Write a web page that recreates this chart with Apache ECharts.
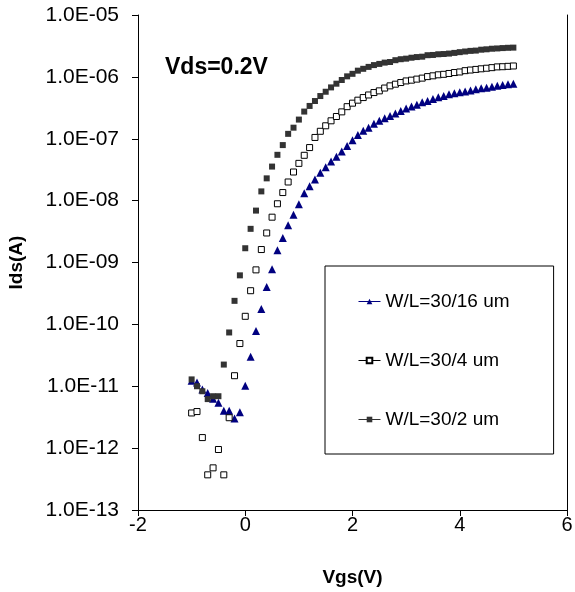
<!DOCTYPE html>
<html>
<head>
<meta charset="utf-8">
<script src="https://cdn.jsdelivr.net/npm/echarts/dist/echarts.min.js"></script>
<style>
  html, body { margin: 0; padding: 0; background: #fff; }
  #main { width: 575px; height: 592px; }
</style>
</head>
<body>
<div id="main"></div>
<script>
// Vgs (V), one point every 0.1 V
var vgs = [
  -1.0, -0.9, -0.8, -0.7, -0.6, -0.5, -0.4, -0.3, -0.2, -0.1,
  0.0, 0.1, 0.2, 0.3, 0.4, 0.5, 0.6, 0.7, 0.8, 0.9,
  1.0, 1.1, 1.2, 1.3, 1.4, 1.5, 1.6, 1.7, 1.8, 1.9,
  2.0, 2.1, 2.2, 2.3, 2.4, 2.5, 2.6, 2.7, 2.8, 2.9,
  3.0, 3.1, 3.2, 3.3, 3.4, 3.5, 3.6, 3.7, 3.8, 3.9,
  4.0, 4.1, 4.2, 4.3, 4.4, 4.5, 4.6, 4.7, 4.8, 4.9,
  5.0
];

// Ids (A) for W/L=30/16 um
var ids30_16 = [
  1.23e-11, 1.15e-11, 8.9e-12, 7.8e-12, 6.3e-12, 5.4e-12, 4.0e-12, 4.0e-12, 3.0e-12, 3.8e-12,
  1.02e-11, 3.0e-11, 7.8e-11, 1.78e-10, 4.0e-10, 7.8e-10, 1.58e-9, 2.5e-9, 4.0e-9, 5.9e-9,
  8.7e-9, 1.32e-8, 1.70e-8, 2.19e-8, 2.82e-8, 3.47e-8, 4.27e-8, 5.1e-8, 6.2e-8, 7.6e-8,
  9.5e-8, 1.15e-7, 1.35e-7, 1.51e-7, 1.74e-7, 1.95e-7, 2.14e-7, 2.34e-7, 2.57e-7, 2.82e-7,
  3.09e-7, 3.31e-7, 3.55e-7, 3.89e-7, 4.07e-7, 4.37e-7, 4.68e-7, 4.9e-7, 5.25e-7, 5.43e-7,
  5.62e-7, 5.82e-7, 6.03e-7, 6.31e-7, 6.53e-7, 6.68e-7, 6.92e-7, 7.16e-7, 7.41e-7, 7.59e-7,
  7.76e-7
];

// Ids (A) for W/L=30/4 um
var ids30_4 = [
  3.7e-12, 3.9e-12, 1.48e-12, 3.7e-13, 4.8e-13, 9.5e-13, 3.7e-13, 3.1e-12, 1.48e-11, 4.9e-11,
  1.35e-10, 3.5e-10, 7.6e-10, 1.62e-9, 3.0e-9, 5.4e-9, 8.9e-9, 1.35e-8, 2.0e-8, 2.9e-8,
  4.0e-8, 5.4e-8, 7.2e-8, 1.05e-7, 1.32e-7, 1.62e-7, 1.95e-7, 2.29e-7, 2.72e-7, 3.3e-7,
  3.76e-7, 4.2e-7, 4.63e-7, 5.1e-7, 5.58e-7, 5.94e-7, 6.6e-7, 7.16e-7, 7.62e-7, 8.1e-7,
  8.6e-7, 8.85e-7, 9.2e-7, 9.55e-7, 1.01e-6, 1.04e-6, 1.08e-6, 1.10e-6, 1.135e-6, 1.175e-6,
  1.20e-6, 1.26e-6, 1.29e-6, 1.32e-6, 1.35e-6, 1.38e-6, 1.41e-6, 1.45e-6, 1.46e-6, 1.48e-6,
  1.50e-6
];

// Ids (A) for W/L=30/2 um
var ids30_2 = [
  1.29e-11, 1.0e-11, 8.3e-12, 6.2e-12, 6.9e-12, 6.9e-12, 2.24e-11, 7.4e-11, 2.4e-10, 6.2e-10,
  1.7e-9, 3.5e-9, 6.9e-9, 1.41e-8, 2.29e-8, 3.55e-8, 5.5e-8, 7.9e-8, 1.2e-7, 1.51e-7,
  2.04e-7, 2.75e-7, 3.39e-7, 4.07e-7, 4.9e-7, 5.75e-7, 6.76e-7, 7.76e-7, 8.9e-7, 1.02e-6,
  1.12e-6, 1.26e-6, 1.35e-6, 1.45e-6, 1.55e-6, 1.62e-6, 1.70e-6, 1.74e-6, 1.86e-6, 1.93e-6,
  1.97e-6, 2.04e-6, 2.09e-6, 2.12e-6, 2.24e-6, 2.26e-6, 2.32e-6, 2.34e-6, 2.38e-6, 2.44e-6,
  2.51e-6, 2.57e-6, 2.63e-6, 2.66e-6, 2.75e-6, 2.79e-6, 2.85e-6, 2.88e-6, 2.92e-6, 2.95e-6,
  2.97e-6
];

var seriesNames = ["W/L=30/16 um", "W/L=30/4 um", "W/L=30/2 um"];
var yTickLabels = ["1.0E-13", "1.0E-12", "1.0E-11", "1.0E-10", "1.0E-09",
                   "1.0E-08", "1.0E-07", "1.0E-06", "1.0E-05"];

function pairs(ys) {
  var arr = [];
  for (var i = 0; i < vgs.length; i++) {
    arr.push([vgs[i], ys[i]]);
  }
  return arr;
}

var font = "Liberation Sans, Arial, sans-serif";
var myChart = echarts.init(document.getElementById("main"));

var option = {
  animation: false,
  title: {
    text: "Vds=0.2V",
    left: 160,
    top: 51,
    textStyle: { color: "#000", fontFamily: font, fontWeight: "bold", fontSize: 23 }
  },
  legend: {
    orient: "vertical",
    left: 325,
    top: 266,
    width: 227,
    padding: [26, 44, 25, 33],
    itemGap: 40,
    itemWidth: 22,
    itemHeight: 7,
    borderColor: "#000",
    borderWidth: 1,
    data: seriesNames,
    lineStyle: { opacity: 1, width: 1 },
    textStyle: { color: "#000", fontFamily: font, fontSize: 19 }
  },
  grid: {
    left: 138,
    right: 8,
    top: 15,
    bottom: 82,
    containLabel: false,
    outerBoundsMode: "none"
  },
  xAxis: {
    type: "value",
    min: -2,
    max: 6,
    interval: 2,
    name: "Vgs(V)",
    nameLocation: "middle",
    nameGap: 58,
    nameTextStyle: { color: "#000", fontFamily: font, fontWeight: "bold", fontSize: 19 },
    axisLine: { onZero: false, lineStyle: { color: "#000", width: 1 } },
    axisTick: { length: 6, lineStyle: { color: "#000" } },
    axisLabel: { color: "#000", fontFamily: font, fontSize: 20, margin: 5 },
    splitLine: { show: false }
  },
  yAxis: [
    {
      type: "log",
      logBase: 10,
      min: 1e-13,
      max: 1e-5,
      splitNumber: 8,
      name: "Ids(A)",
      nameLocation: "middle",
      nameRotate: 90,
      nameGap: 112,
      nameTextStyle: { color: "#000", fontFamily: font, fontWeight: "bold", fontSize: 19 },
      axisLine: { show: true, onZero: false, lineStyle: { color: "#000", width: 1 } },
      axisTick: { show: true, length: 6, lineStyle: { color: "#000" } },
      axisLabel: {
        color: "#000",
        fontFamily: font,
        fontSize: 21,
        margin: 19,
        formatter: function (v) {
          var e = Math.round(Math.log10(v));
          return yTickLabels[e + 13];
        }
      },
      minorTick: { show: false },
      splitLine: { show: false }
    },
    {
      type: "value",
      position: "right",
      min: 0,
      max: 1,
      axisLine: { show: true, onZero: false, lineStyle: { color: "#000", width: 1 } },
      axisTick: { show: false },
      axisLabel: { show: false },
      splitLine: { show: false }
    }
  ],
  series: [
    {
      name: seriesNames[0],
      type: "line",
      symbol: "triangle",
      symbolSize: 8,
      showAllSymbol: true,
      lineStyle: { opacity: 0, color: "#000080" },
      itemStyle: { color: "#000080" },
      data: pairs(ids30_16)
    },
    {
      name: seriesNames[1],
      type: "line",
      symbol: "rect",
      symbolSize: 6,
      showAllSymbol: true,
      lineStyle: { opacity: 0, color: "#000" },
      itemStyle: { color: "#fff", borderColor: "#000", borderWidth: 1 },
      data: pairs(ids30_4)
    },
    {
      name: seriesNames[2],
      type: "line",
      symbol: "rect",
      symbolSize: 6,
      showAllSymbol: true,
      lineStyle: { opacity: 0, color: "#333" },
      itemStyle: { color: "#333" },
      data: pairs(ids30_2)
    }
  ]
};

myChart.setOption(option);
</script>
</body>
</html>
